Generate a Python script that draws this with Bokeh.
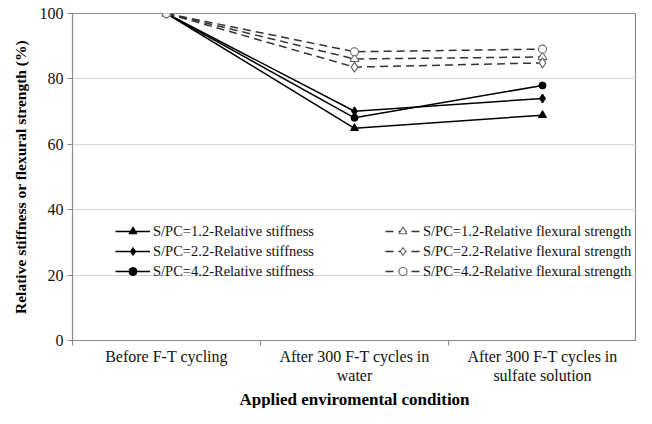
from bokeh.plotting import figure
from bokeh.models import Legend, LegendItem, FixedTicker, Range1d, Title
from bokeh.embed import file_html
from bokeh.resources import INLINE

conditions = ["Before F-T cycling",
              "After 300 F-T cycles in\nwater",
              "After 300 F-T cycles in\nsulfate solution"]
stiff_12 = [100, 64.9, 68.9]
stiff_22 = [100, 70.1, 74.0]
stiff_42 = [100, 68.1, 78.0]
flex_12 = [100, 86.1, 86.7]
flex_22 = [100, 83.6, 84.9]
flex_42 = [100, 88.3, 89.1]
y_ticks = [0, 20, 40, 60, 80, 100]

names_stiff = ["S/PC=1.2-Relative stiffness", "S/PC=2.2-Relative stiffness", "S/PC=4.2-Relative stiffness"]
names_flex = ["S/PC=1.2-Relative flexural strength", "S/PC=2.2-Relative flexural strength",
              "S/PC=4.2-Relative flexural strength"]
x_title = "Applied enviromental condition"
y_title = "Relative stiffness or flexural strength (%)"

FONT = "Liberation Serif"
x = [i + 0.5 for i in range(len(conditions))]

p = figure(width=636, height=408, output_backend="svg", toolbar_location=None,
           x_range=Range1d(0, len(conditions)), y_range=Range1d(0, 100),
           min_border_left=72, min_border_top=13, min_border_right=0, min_border_bottom=40)
p.outline_line_color = "#888888"
p.outline_line_width = 1.2
p.background_fill_color = "white"
p.border_fill_color = "white"

p.xgrid.grid_line_color = None
p.ygrid.grid_line_color = "#d4d4d4"
p.ygrid.grid_line_width = 1

# axes
xa = p.xaxis[0]
xa.ticker = FixedTicker(ticks=x, minor_ticks=list(range(len(conditions) + 1)))
xa.major_label_overrides = {xi: c for xi, c in zip(x, conditions)}
xa.major_tick_line_color = None
xa.major_tick_out = 0
xa.major_tick_in = 0
xa.minor_tick_line_color = "#888888"
xa.minor_tick_out = 5
xa.minor_tick_in = 0
xa.axis_line_color = "#888888"
xa.major_label_standoff = 2
xa.major_label_text_font = FONT
xa.major_label_text_font_size = "16px"
xa.major_label_text_line_height = 1.15
xa.major_label_text_color = "#111111"

# x-axis title in its own panel below the axis
p.add_layout(Title(text=x_title, align="center", text_font=FONT, text_font_size="17px",
                   text_font_style="bold", text_color="black", standoff=0, offset=0), "below")

ya = p.yaxis[0]
ya.ticker = FixedTicker(ticks=y_ticks, minor_ticks=[])
ya.axis_line_color = "#888888"
ya.major_tick_line_color = "#888888"
ya.major_tick_out = 5
ya.major_tick_in = 0
ya.minor_tick_line_color = None
ya.major_label_standoff = 4
ya.major_label_text_font = FONT
ya.major_label_text_font_size = "16px"
ya.major_label_text_color = "#111111"
ya.axis_label = y_title
ya.axis_label_text_font = FONT
ya.axis_label_text_font_size = "15.5px"
ya.axis_label_text_font_style = "bold"
ya.axis_label_text_color = "black"
ya.axis_label_standoff = 8

# solid series (relative stiffness)
items_stiff = []
for vals, name, marker, size in zip([stiff_12, stiff_22, stiff_42], names_stiff,
                                    ["triangle", "diamond", "circle"], [8, 9, 7]):
    lr = p.line(x, vals, line_color="black", line_width=1.5)
    sr = p.scatter(x, vals, marker=marker, size=size, fill_color="black", line_color="black")
    items_stiff.append(LegendItem(label=name, renderers=[lr, sr]))

# dashed series (relative flexural strength)
items_flex = []
for vals, name, marker, size in zip([flex_12, flex_22, flex_42], names_flex,
                                    ["triangle", "diamond", "circle"], [9, 10, 8]):
    lr = p.line(x, vals, line_color="#333333", line_width=1.5, line_dash="8 5")
    sr = p.scatter(x, vals, marker=marker, size=size, fill_color="white", line_color="#666666",
                   line_width=1.1)
    items_flex.append(LegendItem(label=name, renderers=[lr, sr]))

for items, loc in [(items_stiff, (43, 59)), (items_flex, (313, 59))]:
    lg = Legend(items=items, location=loc, orientation="vertical")
    lg.padding = 0
    lg.margin = 0
    lg.spacing = 0
    lg.glyph_width = 35
    lg.glyph_height = 20
    lg.label_height = 20
    lg.label_standoff = 3
    lg.label_text_font = FONT
    lg.label_text_font_size = "14.5px"
    lg.label_text_color = "#111111"
    lg.border_line_color = None
    lg.background_fill_alpha = 0
    p.add_layout(lg, "center")

open("out.html", "w").write(file_html(p, INLINE))
